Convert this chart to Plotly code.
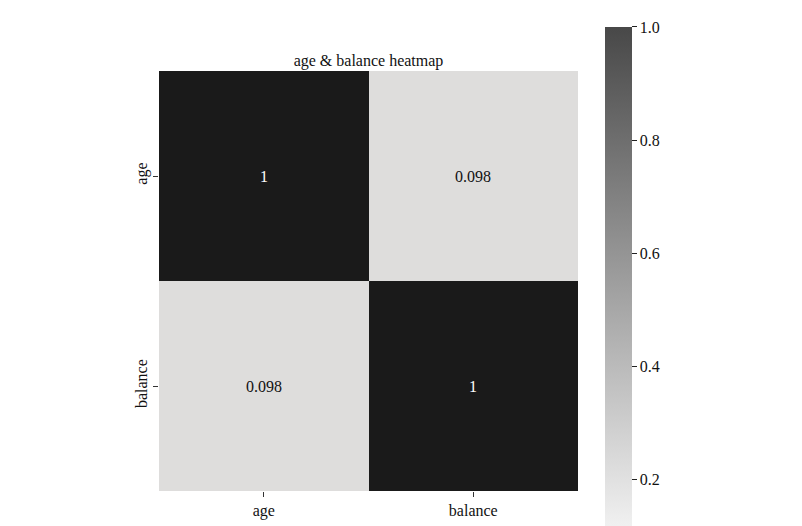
import plotly.graph_objects as go

labels = ["age", "balance"]
corr = [[1.0, 0.098], [0.098, 1.0]]
title_text = "age & balance heatmap"
cbar_ticks = [0.2, 0.4, 0.6, 0.8, 1.0]

font_family = "Liberation Serif"
fs = 16

zmin = min(min(r) for r in corr)
zmax = max(max(r) for r in corr)

fig = go.Figure()

# colorbar carrier (invisible)
fig.add_trace(go.Heatmap(
    z=corr, x=labels, y=labels,
    zmin=zmin, zmax=zmax,
    colorscale=[[0, "#f4f4f4"], [1, "#484848"]],
    opacity=0, hoverinfo="skip",
    showscale=True,
    colorbar=dict(
        x=1.0644, xanchor="left", xpad=0,
        y=1.1048, yanchor="top", ypad=0,
        lenmode="pixels", len=510,
        thicknessmode="pixels", thickness=27,
        outlinewidth=0,
        tickvals=cbar_ticks, tickformat=".1f",
        ticks="outside", ticklen=5, tickwidth=1, tickcolor="#222",
        tickfont=dict(family=font_family, size=fs, color="#111"),
    ),
))

fig.add_trace(go.Heatmap(
    z=corr, x=labels, y=labels,
    zmin=zmin, zmax=zmax,
    colorscale=[[0, "#dedddc"], [1, "#1a1a1a"]],
    showscale=False,
))

for i, row in enumerate(corr):
    for j, v in enumerate(row):
        fig.add_annotation(
            x=labels[j], y=labels[i], text=f"{v:.2g}", showarrow=False,
            font=dict(family=font_family, size=fs,
                      color="#ffffff" if v > 0.5 else "#111111"),
        )

fig.update_layout(
    width=802, height=526,
    margin=dict(l=151, r=232, t=63, b=43, autoexpand=False),
    paper_bgcolor="white", plot_bgcolor="white",
    font=dict(family=font_family, size=fs, color="#111"),
    title=dict(text=title_text, x=0.5, xref="paper", xanchor="center",
               y=(526 - 52) / 526, yref="container", yanchor="middle",
               font=dict(family=font_family, size=fs, color="#111")),
)

fig.update_xaxes(showgrid=False, zeroline=False, ticks="outside", ticklen=5,
                 tickcolor="#333", tickfont=dict(family=font_family, size=fs))
fig.update_yaxes(showgrid=False, zeroline=False, ticks="outside", ticklen=5,
                 tickcolor="#333", tickangle=-90, autorange="reversed",
                 tickfont=dict(family=font_family, size=fs))

fig.write_html("out.html")
